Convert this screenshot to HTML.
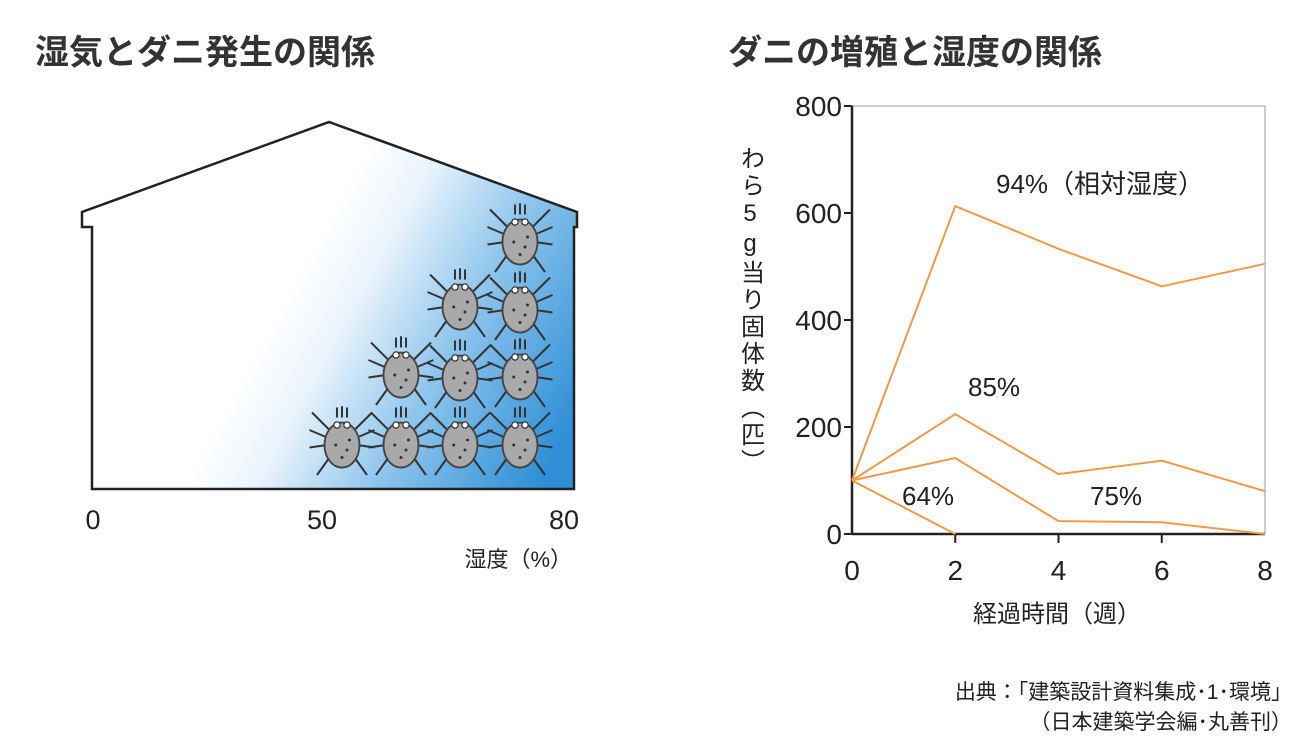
<!DOCTYPE html>
<html><head><meta charset="utf-8">
<style>
body{margin:0;background:#fff;width:1310px;height:745px;overflow:hidden;font-family:"Liberation Sans","Noto Sans CJK JP",sans-serif;color:#2a2a2a}
svg{position:absolute;left:0;top:0}
</style></head><body>
<svg width="1310" height="745" viewBox="0 0 1310 745">
<defs>
<linearGradient id="hum" x1="300" y1="270" x2="575" y2="420" gradientUnits="userSpaceOnUse">
<stop offset="0" stop-color="#ffffff"/>
<stop offset="0.2" stop-color="#eaf4fc"/>
<stop offset="0.55" stop-color="#8cc4ec"/>
<stop offset="1" stop-color="#2f8fd6"/>
</linearGradient>
<g id="mite">
<g stroke="#333" stroke-width="1.6" fill="none">
<path d="M-4,-22 L-4,-30 M4,-22 L4,-30 M0,-22 L0,-31"/>
<path d="M-10,-12 L-24,-26 M10,-12 L24,-26 M-12,-6 L-26,-12 M12,-6 L26,-12 M-12,0 L-26,2 M12,0 L26,2 M-10,10 L-20,24 M10,10 L20,24"/>
</g>
<ellipse cx="0" cy="0" rx="14" ry="18" fill="#a9a9a9" stroke="#444" stroke-width="1.5"/>
<circle cx="-4" cy="-16" r="2.5" fill="#fff" stroke="#333"/>
<circle cx="4" cy="-16" r="2.5" fill="#fff" stroke="#333"/>
<circle cx="-5" cy="0" r="1.2" fill="#333"/><circle cx="4" cy="4" r="1.2" fill="#333"/><circle cx="0" cy="10" r="1.2" fill="#333"/><circle cx="6" cy="-4" r="1.2" fill="#333"/>
</g>
</defs>

<text x="35" y="64" font-size="34" font-weight="bold" fill="#333">湿気とダニ発生の関係</text>
<text x="728" y="64" font-size="34" font-weight="bold" fill="#333">ダニの増殖と湿度の関係</text>

<g>
<path d="M92,489 L92,227 L82,227 L82,212 L329,122 L577,212 L577,227 L574,227 L574,489 Z" fill="url(#hum)" stroke="#222" stroke-width="2.5" stroke-linejoin="miter"/>
<use href="#mite" transform="translate(342,445) scale(1.25)"/>
<use href="#mite" transform="translate(401,445) scale(1.25)"/>
<use href="#mite" transform="translate(401,375) scale(1.25)"/>
<use href="#mite" transform="translate(460,445) scale(1.25)"/>
<use href="#mite" transform="translate(460,378) scale(1.25)"/>
<use href="#mite" transform="translate(460,307) scale(1.25)"/>
<use href="#mite" transform="translate(520,445) scale(1.25)"/>
<use href="#mite" transform="translate(520,377) scale(1.25)"/>
<use href="#mite" transform="translate(520,310) scale(1.25)"/>
<use href="#mite" transform="translate(520,242) scale(1.25)"/>
</g>
<g font-size="27" fill="#222">
<text x="93" y="529" text-anchor="middle">0</text>
<text x="322" y="529" text-anchor="middle">50</text>
<text x="564" y="529" text-anchor="middle">80</text>
<text x="572" y="567" text-anchor="end" font-size="22">湿度（%）</text>
</g>

<g id="chart"></g>

<text x="750" y="146" font-size="24" fill="#222" style="writing-mode:vertical-rl;text-orientation:upright;letter-spacing:3px">わら5g当り固体数（匹）</text>
<text x="1057" y="622" font-size="24" fill="#222" text-anchor="middle">経過時間（週）</text>
<text x="1292" y="699" font-size="21" fill="#222" text-anchor="end">出典：「建築設計資料集成･1･環境」</text>
<text x="1292" y="729" font-size="21" fill="#222" text-anchor="end">（日本建築学会編･丸善刊）</text>
</svg>
<script>
const weeks=[0,2,4,6,8];
const yTicks=[0,200,400,600,800];
const xTicks=[0,2,4,6,8];
const s94=[100,613,533,463,505];
const s85=[100,224,112,137,80];
const s75=[100,142,24,22,0];
const s64=[100,0];
const seriesNames=["94%","85%","75%","64%"];

const L=852,R=1265,T=106,B=534;
const xs=v=>L+(v/8)*(R-L);
const ys=v=>B-(v/800)*(B-T);
const NS="http://www.w3.org/2000/svg";
const g=document.getElementById('chart');
function mk(tag,attrs){const e=document.createElementNS(NS,tag);for(const k in attrs)e.setAttribute(k,attrs[k]);g.appendChild(e);return e;}

const frame=mk('rect',{x:L,y:T,width:R-L,height:B-T,fill:'none',stroke:'#999','stroke-width':1});


const ya=mk('line',{x1:L,y1:T,x2:L,y2:B,stroke:'#222','stroke-width':2.5});


const xa=mk('line',{x1:L,y1:B,x2:R,y2:B,stroke:'#222','stroke-width':2.5});



yTicks.forEach(v=>{
 const tk=mk('line',{x1:L-8,y1:ys(v),x2:L,y2:ys(v),stroke:'#222','stroke-width':2});
 
 
 const t=mk('text',{x:L-10,y:ys(v)+10,'text-anchor':'end','font-size':28,fill:'#222'});
 t.textContent=v;
 
 
});
xTicks.forEach(v=>{
 if(v>0&&v<8){const tk=mk('line',{x1:xs(v),y1:B,x2:xs(v),y2:B+9,stroke:'#222','stroke-width':2});
 
 }
 const t=mk('text',{x:xs(v),y:B+46,'text-anchor':'middle','font-size':28,fill:'#222'});
 t.textContent=v;
 
 
});

[s94,s85,s75,s64].forEach((s,i)=>{
 const pts=s.map((v,j)=>xs(weeks[j])+','+ys(v)).join(' ');
 const p=mk('polyline',{points:pts,fill:'none',stroke:'#ef9a4a','stroke-width':2});
 
 
});

const labels=[["94%（相対湿度）",996,193],["85%",968,396],["75%",1090,505],["64%",902,505]];
labels.forEach(l=>{
 const t=mk('text',{x:l[1],y:l[2],'font-size':26,fill:'#222'});
 t.textContent=l[0];
 
 
});
</script>
</body></html>
